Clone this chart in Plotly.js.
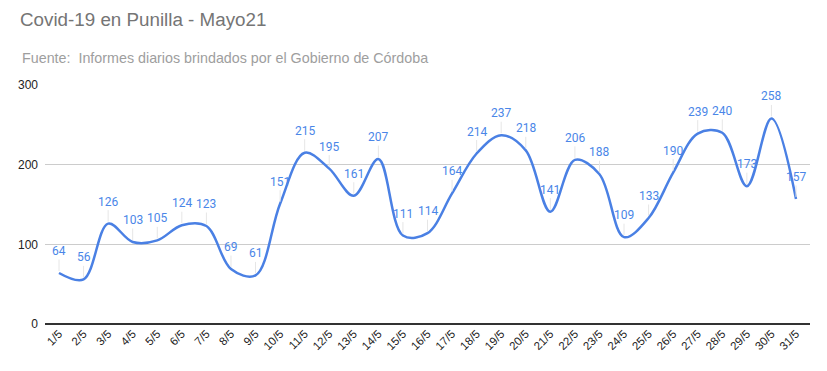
<!DOCTYPE html>
<html>
<head>
<meta charset="utf-8">
<script src="https://cdn.plot.ly/plotly-3.0.1.min.js"></script>
<style>html,body{margin:0;padding:0;background:#fff;}#chart{width:827px;height:371px;}</style>
</head>
<body>
<div id="chart"></div>
<script>
const days = ["1/5","2/5","3/5","4/5","5/5","6/5","7/5","8/5","9/5","10/5","11/5","12/5","13/5","14/5","15/5","16/5","17/5","18/5","19/5","20/5","21/5","22/5","23/5","24/5","25/5","26/5","27/5","28/5","29/5","30/5","31/5"];
const cases = [64,56,126,103,105,124,123,69,61,151,215,195,161,207,111,114,164,214,237,218,141,206,188,109,133,190,239,240,173,258,157];
const yTicks = [0,100,200,300];

const lineColor = "#4a80e4";
const labelColor = "#4a86e8";

const trace = {
  x: days, y: cases, type: "scatter", mode: "lines",
  line: {color: lineColor, width: 2.5, shape: "spline", smoothing: 1},
  hoverinfo: "x+y"
};

const annotations = days.map((d, i) => ({
  x: d, y: cases[i], xref: "x", yref: "y",
  text: String(cases[i]), showarrow: true, arrowhead: 0, arrowwidth: 1,
  arrowcolor: "#e6e6e6", ax: 0, ay: -22, standoff: 2,
  font: {family: "Roboto, sans-serif", size: 12, color: labelColor}
}));
annotations.push({
  xref: "paper", yref: "paper", x: -0.0327, y: 1.113, xanchor: "left", yanchor: "middle",
  showarrow: false, text: "Fuente:  Informes diarios brindados por el Gobierno de Córdoba",
  font: {family: "Liberation Sans, Arial, sans-serif", size: 14.3, color: "#9e9e9e"}
});

const layout = {
  width: 827, height: 371,
  margin: {l: 45, r: 17, t: 85, b: 47},
  paper_bgcolor: "#fff", plot_bgcolor: "#fff",
  title: {text: "Covid-19 en Punilla - Mayo21", x: 20/827, xanchor: "left", y: 1 - 19/371, yanchor: "middle",
    font: {family: "Liberation Sans, Arial, sans-serif", size: 18.8, color: "#757575"}},
  showlegend: false,
  xaxis: {type: "category", range: [-0.57, 30.57], tickangle: -45, showgrid: false, showline: false, zeroline: false,
    ticks: "", tickfont: {family: "Liberation Sans, Arial, sans-serif", size: 11.5, color: "#222"}, fixedrange: true},
  yaxis: {range: [0, 300], tickvals: yTicks, showgrid: true, gridcolor: "#cccccc", gridwidth: 1,
    zeroline: true, zerolinecolor: "#333", zerolinewidth: 1.5, ticks: "", ticklabelstandoff: 6,
    tickfont: {family: "Liberation Sans, Arial, sans-serif", size: 12, color: "#222"}, fixedrange: true},
  annotations: annotations
};

Plotly.newPlot("chart", [trace], layout, {displayModeBar: false, staticPlot: true});
</script>
</body>
</html>
